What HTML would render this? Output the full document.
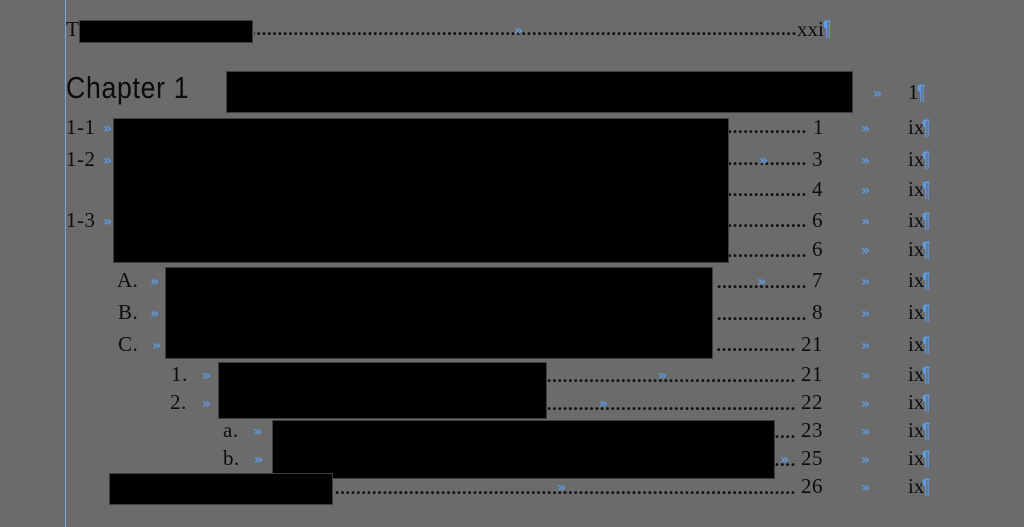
<!DOCTYPE html>
<html><head><meta charset="utf-8">
<style>
html,body{margin:0;padding:0;background:#6b6b6b}
#p{position:relative;width:1024px;height:527px;overflow:hidden;background:#6b6b6b;font-family:"Liberation Serif",serif;color:#0c0c0c}
#p div{position:absolute;white-space:nowrap}
.t{font-size:21px;line-height:24px;letter-spacing:.5px}
.b{background:#000;border:1px solid #3f3f3f;box-sizing:border-box}
.g{font-family:"DejaVu Sans",sans-serif;font-size:14px;line-height:14px;color:#5e9be2;font-weight:bold}
.x{font-size:21px;line-height:24px;left:908px}
.q{font-size:21px;line-height:24px;color:#5e9be2;left:922px;font-family:"Liberation Sans",sans-serif;font-weight:bold;transform:scaleX(.7);transform-origin:0 0;margin-top:1px}
.d{font-size:18px;font-weight:bold;line-height:24px;letter-spacing:.8px;overflow:hidden;direction:rtl;text-align:right;margin-top:1px;color:#111}
</style></head><body><div id="p">
<div style="left:65px;top:0;width:1px;height:527px;background:#78a8e0"></div>

<div class="t" style="left:66px;top:17px">T</div>
<div class="d" style="left:254px;width:543px;top:16px">.............................................................................................................</div>
<div class="t" style="left:797px;top:17px;letter-spacing:0">xxi</div>
<div class="q" style="left:823px;top:16px">¶</div>
<div class="g" style="left:514px;top:24px">»</div>

<div style="left:66px;top:70px;font:31px/36px 'Liberation Sans',sans-serif;letter-spacing:.8px;transform:scaleX(.86);transform-origin:0 0">Chapter 1</div>
<div class="g" style="left:873px;top:87px">»</div>
<div class="t" style="left:908px;top:80px">1</div>
<div class="q" style="left:917px;top:80px">¶</div>

<div class="t" style="left:66px;top:115px">1-1</div><div class="g" style="left:103px;top:122px">»</div>
<div class="t" style="left:66px;top:147px">1-2</div><div class="g" style="left:103px;top:154px">»</div>
<div class="t" style="left:66px;top:208px">1-3</div><div class="g" style="left:103px;top:215px">»</div>

<div class="t" style="left:117px;top:268px">A.</div><div class="g" style="left:150px;top:275px">»</div>
<div class="t" style="left:118px;top:300px">B.</div><div class="g" style="left:150px;top:307px">»</div>
<div class="t" style="left:118px;top:332px">C.</div><div class="g" style="left:152px;top:339px">»</div>

<div class="t" style="left:171px;top:362px">1.</div><div class="g" style="left:202px;top:369px">»</div>
<div class="t" style="left:170px;top:390px">2.</div><div class="g" style="left:202px;top:397px">»</div>
<div class="t" style="left:223px;top:418px">a.</div><div class="g" style="left:253px;top:425px">»</div>
<div class="t" style="left:223px;top:446px">b.</div><div class="g" style="left:254px;top:453px">»</div>

<div class="d" style="left:729px;width:78px;top:114px">................</div><div class="t" style="left:813px;top:115px">1</div>
<div class="d" style="left:729px;width:78px;top:146px">................</div><div class="t" style="left:812px;top:147px">3</div><div class="g" style="left:759px;top:154px">»</div>
<div class="d" style="left:729px;width:78px;top:177px">................</div><div class="t" style="left:812px;top:177px">4</div>
<div class="d" style="left:729px;width:78px;top:208px">................</div><div class="t" style="left:812px;top:208px">6</div>
<div class="d" style="left:729px;width:78px;top:238px">................</div><div class="t" style="left:812px;top:237px">6</div>
<div class="d" style="left:716px;width:91px;top:269px">..................</div><div class="t" style="left:812px;top:268px">7</div><div class="g" style="left:757px;top:275px">»</div>
<div class="d" style="left:716px;width:91px;top:301px">..................</div><div class="t" style="left:812px;top:300px">8</div>
<div class="d" style="left:716px;width:80px;top:332px">................</div><div class="t" style="left:801px;top:332px">21</div>
<div class="d" style="left:547px;width:249px;top:363px">................................................</div><div class="t" style="left:801px;top:362px">21</div><div class="g" style="left:658px;top:369px">»</div>
<div class="d" style="left:547px;width:249px;top:391px">................................................</div><div class="t" style="left:801px;top:390px">22</div><div class="g" style="left:599px;top:397px">»</div>
<div class="d" style="left:775px;width:21px;top:419px">....</div><div class="t" style="left:801px;top:418px">23</div>
<div class="d" style="left:775px;width:21px;top:447px">....</div><div class="t" style="left:801px;top:446px">25</div><div class="g" style="left:780px;top:453px">»</div>
<div class="d" style="left:335px;width:461px;top:475px">.........................................................................................</div><div class="t" style="left:801px;top:474px">26</div><div class="g" style="left:557px;top:481px">»</div>

<div class="g" style="left:861px;top:122px">»</div><div class="x" style="top:115px">ix</div><div class="q" style="top:115px">¶</div>
<div class="g" style="left:861px;top:154px">»</div><div class="x" style="top:147px">ix</div><div class="q" style="top:147px">¶</div>
<div class="g" style="left:861px;top:184px">»</div><div class="x" style="top:177px">ix</div><div class="q" style="top:177px">¶</div>
<div class="g" style="left:861px;top:215px">»</div><div class="x" style="top:208px">ix</div><div class="q" style="top:208px">¶</div>
<div class="g" style="left:861px;top:244px">»</div><div class="x" style="top:237px">ix</div><div class="q" style="top:237px">¶</div>
<div class="g" style="left:861px;top:275px">»</div><div class="x" style="top:268px">ix</div><div class="q" style="top:268px">¶</div>
<div class="g" style="left:861px;top:307px">»</div><div class="x" style="top:300px">ix</div><div class="q" style="top:300px">¶</div>
<div class="g" style="left:861px;top:339px">»</div><div class="x" style="top:332px">ix</div><div class="q" style="top:332px">¶</div>
<div class="g" style="left:861px;top:369px">»</div><div class="x" style="top:362px">ix</div><div class="q" style="top:362px">¶</div>
<div class="g" style="left:861px;top:397px">»</div><div class="x" style="top:390px">ix</div><div class="q" style="top:390px">¶</div>
<div class="g" style="left:861px;top:425px">»</div><div class="x" style="top:418px">ix</div><div class="q" style="top:418px">¶</div>
<div class="g" style="left:861px;top:453px">»</div><div class="x" style="top:446px">ix</div><div class="q" style="top:446px">¶</div>
<div class="g" style="left:861px;top:481px">»</div><div class="x" style="top:474px">ix</div><div class="q" style="top:474px">¶</div>

<div class="b" style="left:79px;top:20px;width:174px;height:23px"></div>
<div class="b" style="left:226px;top:71px;width:627px;height:42px"></div>
<div class="b" style="left:113px;top:118px;width:616px;height:145px"></div>
<div class="b" style="left:165px;top:267px;width:548px;height:92px"></div>
<div class="b" style="left:218px;top:362px;width:329px;height:57px"></div>
<div class="b" style="left:272px;top:420px;width:503px;height:59px"></div>
<div class="b" style="left:109px;top:473px;width:224px;height:32px"></div>
</div></body></html>
